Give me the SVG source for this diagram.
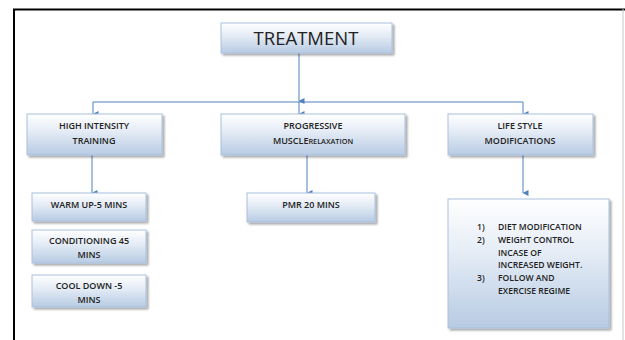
<svg xmlns="http://www.w3.org/2000/svg" width="625" height="340" viewBox="0 0 625 340">
<defs>
<linearGradient id="g" x1="0" y1="0" x2="0" y2="1">
<stop offset="0" stop-color="#ffffff"/>
<stop offset="0.4" stop-color="#e6edf6"/>
<stop offset="1" stop-color="#b7cbe3"/>
</linearGradient>
<filter id="sh" x="-10%" y="-10%" width="130%" height="140%">
<feGaussianBlur in="SourceAlpha" stdDeviation="1"/>
<feOffset dx="1.5" dy="1.5" result="b"/>
<feComponentTransfer><feFuncA type="linear" slope="0.35"/></feComponentTransfer>
<feMerge><feMergeNode/><feMergeNode in="SourceGraphic"/></feMerge>
</filter>
<marker id="ar" viewBox="0 0 6 6" refX="3" refY="5.5" markerWidth="6" markerHeight="6" orient="auto-start-reverse" markerUnits="userSpaceOnUse">
<path d="M0,0 L6,0 L3,6 Z" fill="#4f81bd"/>
</marker>
</defs>
<style>
.box{fill:url(#g);stroke:#a9c0dd;stroke-width:1;filter:url(#sh)}
.t{font-family:"Open Sans","Liberation Sans",sans-serif;fill:#222;text-anchor:middle;font-size:9px;font-weight:600}
.l{font-family:"Open Sans","Liberation Sans",sans-serif;fill:#222;font-size:8.6px;font-weight:600}
.c{fill:none;stroke:#4f81bd;stroke-width:1}
</style>
<rect width="625" height="340" fill="#fff"/>
<path d="M14,340 V9.5 H625" fill="none" stroke="#000" stroke-width="2"/>
<line x1="623" y1="9" x2="623" y2="340" stroke="#c8c8c8" stroke-width="1"/>

<g id="connectors">
<path class="c" d="M299,53 V101" marker-end="url(#ar)"/>
<path class="c" d="M93,102 H523"/>
<path class="c" d="M93,102 V114" marker-end="url(#ar)"/>
<path class="c" d="M299,102 V114" marker-end="url(#ar)"/>
<path class="c" d="M523,102 V114" marker-end="url(#ar)"/>
<path class="c" d="M92,155 V193" marker-end="url(#ar)"/>
<path class="c" d="M307,155 V193" marker-end="url(#ar)"/>
<path class="c" d="M523,155 V193" marker-end="url(#ar)"/>
</g>

<g id="treatment">
<rect class="box" x="221" y="23" width="171" height="30"/>
<text class="t" x="306" y="45" style="font-size:18.5px;font-weight:400">TREATMENT</text>
</g>
<g id="hit">
<rect class="box" x="27" y="114" width="135" height="41"/>
<text class="t" x="94" y="129">HIGH INTENSITY</text>
<text class="t" x="94" y="143.5">TRAINING</text>
</g>
<g id="pmr-main">
<rect class="box" x="221" y="114" width="184" height="41"/>
<text class="t" x="313" y="129">PROGRESSIVE</text>
<text class="t" x="313" y="143.5">MUSCLE<tspan style="font-size:7.3px">RELAXATION</tspan></text>
</g>
<g id="lifestyle">
<rect class="box" x="448" y="114" width="145" height="41"/>
<text class="t" x="520" y="129">LIFE STYLE</text>
<text class="t" x="520" y="143.5">MODIFICATIONS</text>
</g>
<g id="warmup">
<rect class="box" x="32" y="193" width="114" height="28"/>
<text class="t" x="89" y="207.5">WARM UP-5 MINS</text>
</g>
<g id="conditioning">
<rect class="box" x="32" y="230" width="114" height="33"/>
<text class="t" x="89" y="244">CONDITIONING 45</text>
<text class="t" x="89" y="258">MINS</text>
</g>
<g id="cooldown">
<rect class="box" x="32" y="275" width="114" height="32"/>
<text class="t" x="89" y="289">COOL DOWN -5</text>
<text class="t" x="89" y="303">MINS</text>
</g>
<g id="pmr20">
<rect class="box" x="247" y="193" width="128" height="29"/>
<text class="t" x="311" y="207.5">PMR 20 MINS</text>
</g>
<g id="list">
<rect class="box" x="448" y="199" width="161" height="129"/>
<text class="l" x="477" y="230">1)</text>
<text class="l" x="498" y="230">DIET MODIFICATION</text>
<text class="l" x="477" y="243">2)</text>
<text class="l" x="498" y="243">WEIGHT CONTROL</text>
<text class="l" x="498" y="255.5">INCASE OF</text>
<text class="l" x="498" y="268">INCREASED WEIGHT.</text>
<text class="l" x="477" y="281">3)</text>
<text class="l" x="498" y="281">FOLLOW AND</text>
<text class="l" x="498" y="294">EXERCISE REGIME</text>
</g>
</svg>
